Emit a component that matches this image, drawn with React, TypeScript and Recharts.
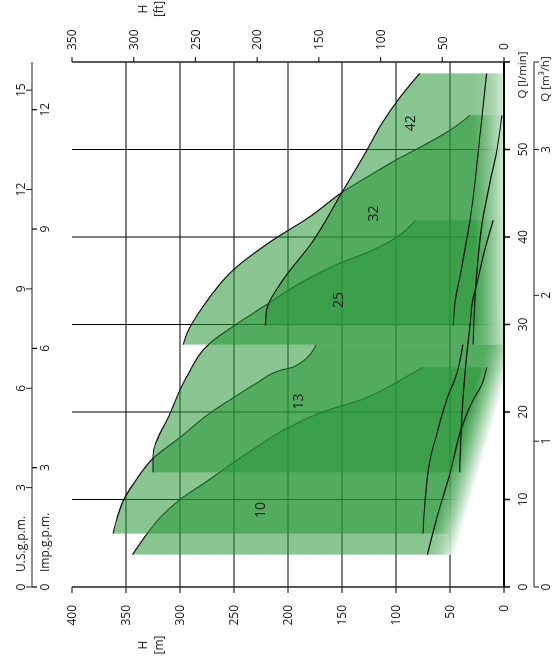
import React from 'react';
import { ComposedChart, Area, Line, XAxis, YAxis, CartesianGrid, ReferenceDot } from 'recharts';

// ---- Head curves H [m] vs Q [l/min] for each model ----
const head10 = [
  { q: 3.7, h: 344 }, { q: 6, h: 331 }, { q: 8, h: 318 }, { q: 10, h: 300 }, { q: 12, h: 276 },
  { q: 14, h: 253 }, { q: 16, h: 229 }, { q: 18, h: 203 }, { q: 20, h: 168 }, { q: 21.5, h: 130 },
  { q: 23, h: 105 }, { q: 24.2, h: 88 }, { q: 25.1, h: 75 },
];
const head13 = [
  { q: 6.1, h: 362 }, { q: 8, h: 358 }, { q: 10, h: 352 }, { q: 12, h: 342 }, { q: 14.7, h: 325 },
  { q: 17.1, h: 300 }, { q: 19.9, h: 272 }, { q: 21.6, h: 251 }, { q: 23.3, h: 229 }, { q: 24.8, h: 206 },
  { q: 25.15, h: 195 }, { q: 27.7, h: 174 },
];
const head25 = [
  { q: 13.1, h: 325 }, { q: 14.9, h: 325 }, { q: 19.9, h: 309 }, { q: 24, h: 294 }, { q: 27.9, h: 272 },
  { q: 30.1, h: 247 }, { q: 32.5, h: 217 }, { q: 34.7, h: 189 }, { q: 37, h: 152 }, { q: 38.2, h: 127 },
  { q: 40, h: 99 }, { q: 41.9, h: 82 },
];
const head32 = [
  { q: 27.7, h: 297 }, { q: 29, h: 293.5 }, { q: 32, h: 279 }, { q: 36.2, h: 251 }, { q: 39.4, h: 217 },
  { q: 42.3, h: 180 }, { q: 45.1, h: 150 }, { q: 47.5, h: 118 }, { q: 48.8, h: 100 }, { q: 50.3, h: 77 },
  { q: 52.2, h: 50 }, { q: 53.9, h: 31.5 },
];
const head42 = [
  { q: 29.9, h: 221 }, { q: 31.5, h: 220 }, { q: 32.2, h: 218.5 }, { q: 35.1, h: 204.6 }, { q: 39.5, h: 177 },
  { q: 45.1, h: 150 }, { q: 49.9, h: 127 }, { q: 52.6, h: 115 }, { q: 56, h: 96 }, { q: 58.7, h: 78 },
];

// ---- Lower curves (plotted on the H scale) ----
const low10 = [
  { q: 3.7, h: 71 }, { q: 8, h: 62 }, { q: 13, h: 50 }, { q: 18.3, h: 39 }, { q: 21.4, h: 28.5 },
  { q: 23, h: 21 }, { q: 25.1, h: 16 },
];
const low13 = [
  { q: 6.1, h: 75 }, { q: 9.9, h: 73 }, { q: 14.5, h: 68.5 }, { q: 17.6, h: 62 }, { q: 21.4, h: 53 },
  { q: 24.5, h: 43.5 }, { q: 27.7, h: 38 },
];
const low25 = [
  { q: 13.1, h: 41 }, { q: 21.4, h: 38 }, { q: 25.9, h: 35 }, { q: 30.5, h: 31 }, { q: 32.8, h: 29 },
  { q: 34.7, h: 25 }, { q: 37.7, h: 19.5 }, { q: 41.9, h: 10 },
];
const low32 = [
  { q: 27.7, h: 28.7 }, { q: 32.8, h: 27 }, { q: 37.7, h: 24 }, { q: 42.3, h: 19.4 }, { q: 46.2, h: 13 },
  { q: 50, h: 6.5 }, { q: 53.9, h: 2 },
];
const low42 = [
  { q: 29.9, h: 47 }, { q: 32.8, h: 45 }, { q: 36, h: 40 }, { q: 42.3, h: 31 }, { q: 51.9, h: 22 },
  { q: 58.7, h: 16 },
];

// ---- Model labels ----
const modelLabels = [
  { name: '10', q: 8.8, h: 226 },
  { name: '13', q: 21.2, h: 191 },
  { name: '25', q: 32.8, h: 154 },
  { name: '32', q: 42.7, h: 121 },
  { name: '42', q: 53, h: 87 },
];

// ---- Axis ticks and extents ----
const qTicks = [0, 10, 20, 30, 40, 50, 60];
const m3hTicks = [0, 1, 2, 3, 3.6];
const usgTicks = [0, 3, 6, 9, 12, 15];
const impTicks = [0, 3, 6, 9, 12];
const hmTicks = [0, 50, 100, 150, 200, 250, 300, 350, 400];
const hftTicks = [0, 50, 100, 150, 200, 250, 300, 350];
const gridH = [50, 100, 150, 200, 250, 300, 350];
const gridQ = [10, 20, 30, 40, 50];
const qMax = 60;
const m3hMax = 3.6;
const usgMax = 15.85;
const impMax = 13.2;
const hmMax = 400;
const hftMax = 350;

// invisible extent series so that secondary axes are active
const extM3h = [{ q: 0, h: 0 }, { q: m3hMax, h: 0 }];
const extUsg = [{ q: 0, h: 0 }, { q: usgMax, h: 0 }];
const extImp = [{ q: 0, h: 0 }, { q: impMax, h: 0 }];
const extFt = [{ q: 0, h: 0 }, { q: qMax, h: hftMax }];

const W = 662;
const H = 554;
const TXT = '#1a1a1a';

const lowerModels = [head10, head13, head25];
const upperModels = [head32, head42];
const lows = [low10, low13, low25, low32, low42];

const UsgTick = (props: any) => {
  const { x, y, payload } = props;
  return (
    <g>
      <text x={x} y={y} textAnchor="middle" fontSize={12} fill={TXT}>{payload.value}</text>
      {payload.value === 0 && (
        <text x={x + 15} y={y} textAnchor="start" fontSize={12} fill={TXT}>U.S.g.p.m.</text>
      )}
    </g>
  );
};

const ImpTick = (props: any) => {
  const { x, y, payload } = props;
  return (
    <g>
      <line x1={x} x2={x} y1={y} y2={y + 5} stroke="#000" strokeWidth={1.2} />
      <text x={x} y={y + 17} textAnchor="middle" fontSize={12} fill={TXT}>{payload.value}</text>
      {payload.value === 0 && (
        <text x={x + 15} y={y + 17} textAnchor="start" fontSize={12} fill={TXT}>Imp.g.p.m.</text>
      )}
    </g>
  );
};

const makeBottomTick = (lastValue: number, title: string, shift: number) => (props: any) => {
  const { x, y, payload } = props;
  const isTitle = payload.value === lastValue;
  return (
    <text x={isTitle ? x - shift : x} y={y} dy="0.71em" textAnchor="middle" fontSize={isTitle ? 11.5 : 12} fill={TXT}>
      {isTitle ? title : payload.value}
    </text>
  );
};
const QTick = makeBottomTick(60, 'Q [l/min]', 13);
const M3hTick = makeBottomTick(3.6, 'Q [m³/h]', 17);

export default function App() {
  return (
    <div
      style={{
        position: 'fixed', left: 0, top: 0, width: W, height: H,
        transformOrigin: '0 0', transform: `translate(0px, ${W}px) rotate(-90deg)`,
        fontFamily: '"Open Sans", "DejaVu Sans", sans-serif', background: '#fff',
      }}
    >
      <ComposedChart width={W} height={H} margin={{ top: 0, right: 0, bottom: 0, left: 0 }}>
        <defs>
          <linearGradient id="fadeLow" gradientUnits="userSpaceOnUse" x1={124.8} y1={431.1} x2={117} y2={458}>
            <stop offset="0" stopColor="#289637" stopOpacity={0.55} />
            <stop offset="1" stopColor="#ffffff" stopOpacity={1} />
          </linearGradient>
          <linearGradient id="fadeHigh" gradientUnits="userSpaceOnUse" x1={0} y1={474} x2={0} y2={512}>
            <stop offset="0" stopColor="#289637" stopOpacity={0.55} />
            <stop offset="1" stopColor="#ffffff" stopOpacity={1} />
          </linearGradient>
        </defs>
        <CartesianGrid xAxisId="b1q" yAxisId="m" horizontalValues={gridH} verticalValues={gridQ} stroke="#000" strokeWidth={1} fill="none" />
        <XAxis xAxisId="b1q" type="number" dataKey="q" domain={[0, qMax]} ticks={qTicks} interval={0} height={30}
          axisLine={{ stroke: '#000', strokeWidth: 2 }} tickLine={{ stroke: '#000', strokeWidth: 1.5 }} tickSize={6} tickMargin={8}
          tick={<QTick />} />
        <XAxis xAxisId="b2m3h" type="number" dataKey="q" domain={[0, m3hMax]} ticks={m3hTicks} interval={0} height={20}
          axisLine={{ stroke: '#222', strokeWidth: 1.2 }} tickLine={{ stroke: '#222' }} tickSize={5} tickMargin={2}
          tick={<M3hTick />} />
        <XAxis xAxisId="t1imp" orientation="top" type="number" dataKey="q" domain={[0, impMax]} ticks={impTicks} interval={0} height={40}
          axisLine={false} tickLine={false} tickSize={40} tickMargin={0} tick={<ImpTick />} />
        <XAxis xAxisId="t2usg" orientation="top" type="number" dataKey="q" domain={[0, usgMax]} ticks={usgTicks} interval={0} height={32}
          axisLine={{ stroke: '#222', strokeWidth: 1.2 }} tickLine={{ stroke: '#222' }} tickSize={6} tickMargin={1} tick={<UsgTick />} />
        <YAxis yAxisId="m" type="number" domain={[0, hmMax]} ticks={hmTicks} interval={0} width={75}
          axisLine={{ stroke: '#222', strokeWidth: 1.5 }} tickLine={{ stroke: '#222', strokeWidth: 1.2 }} tickSize={6} tickMargin={12}
          tick={{ fontSize: 12, fill: TXT }} />
        <YAxis yAxisId="ft" orientation="right" type="number" domain={[0, hftMax]} ticks={hftTicks} interval={0} width={62}
          axisLine={{ stroke: '#222', strokeWidth: 1.5 }} tickLine={{ stroke: '#222', strokeWidth: 1.2 }} tickSize={5} tickMargin={7}
          tick={{ fontSize: 12, fill: TXT }} />

        {lowerModels.map((d, i) => (
          <Area key={'a' + i} data={d} dataKey="h" xAxisId="b1q" yAxisId="m" type="monotone"
            fill="url(#fadeLow)" fillOpacity={1} stroke="#111" strokeWidth={1.2}
            dot={false} activeDot={false} isAnimationActive={false} />
        ))}
        {upperModels.map((d, i) => (
          <Area key={'u' + i} data={d} dataKey="h" xAxisId="b1q" yAxisId="m" type="monotone"
            fill="url(#fadeHigh)" fillOpacity={1} stroke="#111" strokeWidth={1.2}
            dot={false} activeDot={false} isAnimationActive={false} />
        ))}
        {lows.map((d, i) => (
          <Line key={'l' + i} data={d} dataKey="h" xAxisId="b1q" yAxisId="m" type="monotone"
            stroke="#111" strokeWidth={1.2} dot={false} activeDot={false} isAnimationActive={false} />
        ))}
        <Line data={extM3h} dataKey="h" xAxisId="b2m3h" yAxisId="m" stroke="none" dot={false} activeDot={false} isAnimationActive={false} />
        <Line data={extUsg} dataKey="h" xAxisId="t2usg" yAxisId="m" stroke="none" dot={false} activeDot={false} isAnimationActive={false} />
        <Line data={extImp} dataKey="h" xAxisId="t1imp" yAxisId="m" stroke="none" dot={false} activeDot={false} isAnimationActive={false} />
        <Line data={extFt} dataKey="h" xAxisId="b1q" yAxisId="ft" stroke="none" dot={false} activeDot={false} isAnimationActive={false} />
        {modelLabels.map((m) => (
          <ReferenceDot key={m.name} xAxisId="b1q" yAxisId="m" x={m.q} y={m.h} r={0} fill="none" stroke="none"
            label={{ value: m.name, position: 'center', fontSize: 14, fill: TXT }} />
        ))}
        <text x={17} y={147} textAnchor="middle" fontSize={12} fill={TXT}>H</text>
        <text x={17} y={163} textAnchor="middle" fontSize={12} fill={TXT}>[m]</text>
        <text x={653} y={147} textAnchor="middle" fontSize={12} fill={TXT}>H</text>
        <text x={653} y={163} textAnchor="middle" fontSize={12} fill={TXT}>[ft]</text>
      </ComposedChart>
    </div>
  );
}
